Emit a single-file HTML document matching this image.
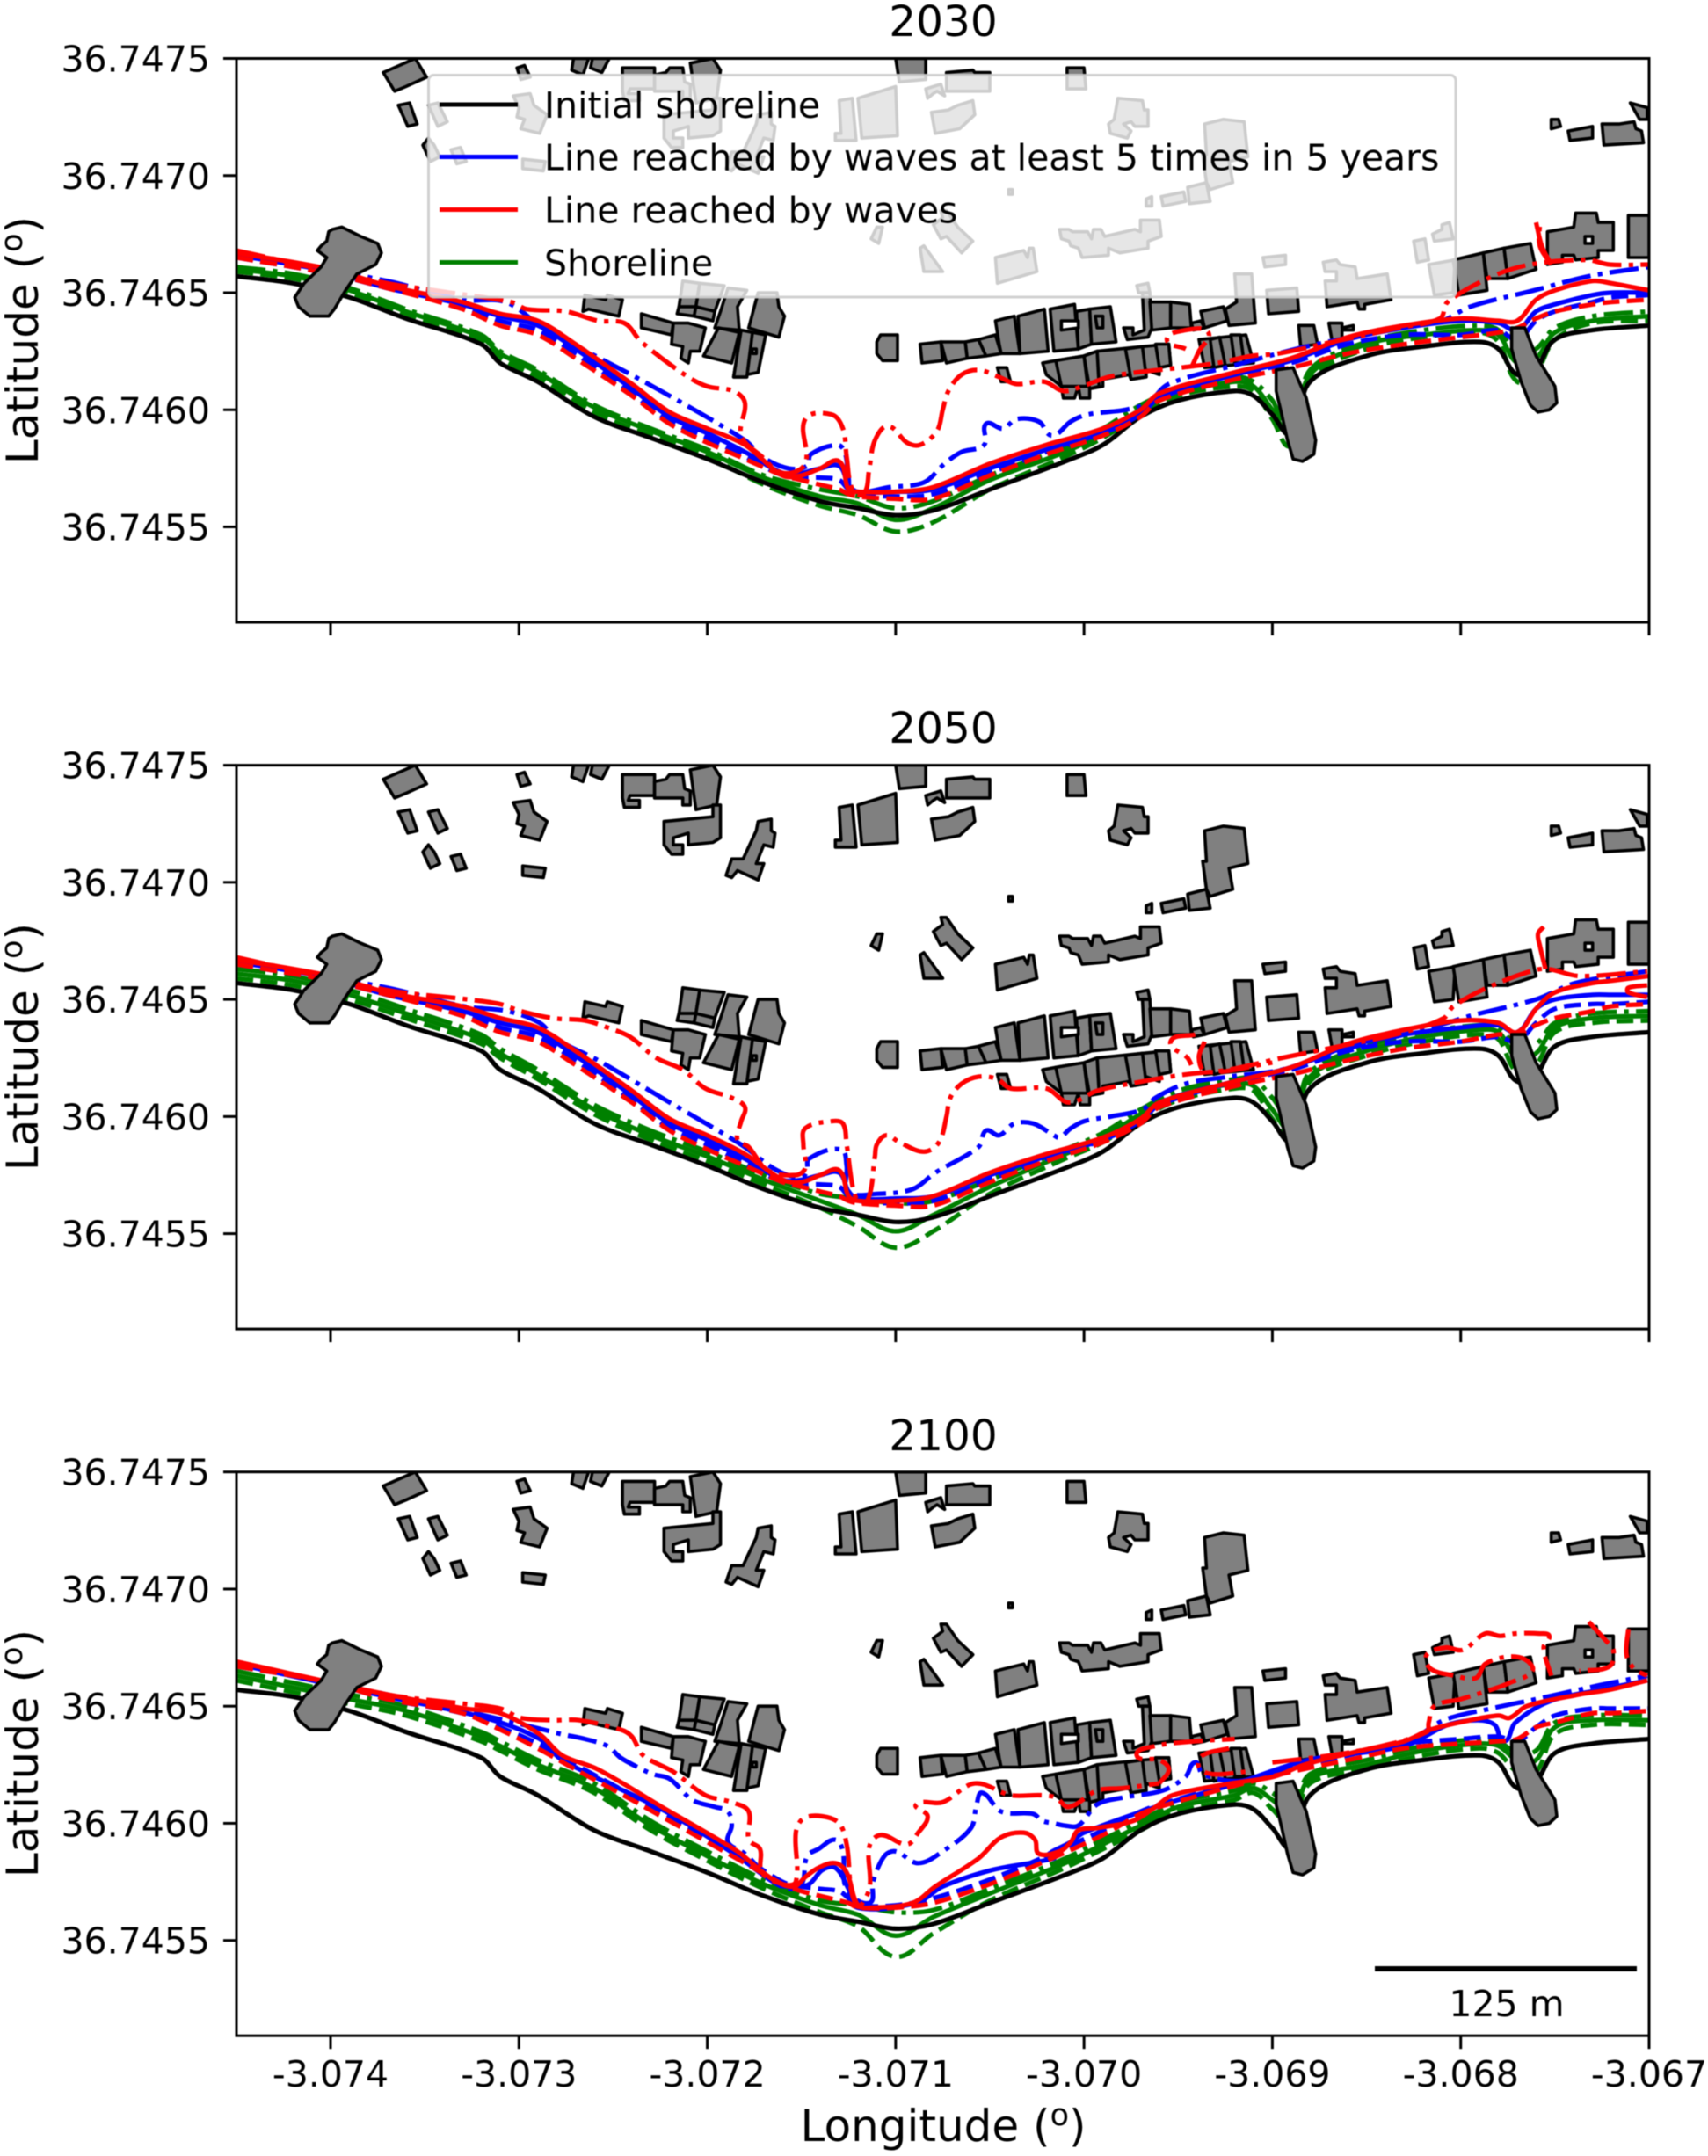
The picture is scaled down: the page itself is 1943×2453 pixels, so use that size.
<!DOCTYPE html>
<html lang="en">
<head>
<meta charset="utf-8">
<title>Shoreline projections 2030, 2050, 2100</title>
<style>
html,body{margin:0;padding:0;background:#fff}
svg{display:block;filter:blur(0.6px)}
text{font-family:"DejaVu Sans","Liberation Sans",sans-serif;fill:#000}
</style>
</head>
<body>
<svg id="chart" xmlns="http://www.w3.org/2000/svg" width="1943" height="2453" viewBox="0 0 1943 2453">
<rect x="0" y="0" width="1943" height="2453" fill="#fff"/>
<defs>
<clipPath id="clip0"><rect x="269" y="66.5" width="1607" height="641.5"/></clipPath>
<clipPath id="clip1"><rect x="269" y="870.6" width="1607" height="641.5"/></clipPath>
<clipPath id="clip2"><rect x="269" y="1674.7" width="1607" height="641.5"/></clipPath>
</defs>
<g id="panel0"></g>
<g id="panel1"></g>
<g id="panel2"></g>
<text x="1073" y="41" font-size="48.5" text-anchor="middle">2030</text>
<text x="1073" y="845" font-size="48.5" text-anchor="middle">2050</text>
<text x="1073" y="1650" font-size="48.5" text-anchor="middle">2100</text>
<text transform="translate(43,387) rotate(-90)" font-size="50" text-anchor="middle">Latitude (<tspan font-size="35" dy="-18">o</tspan><tspan dy="18">)</tspan></text>
<text transform="translate(43,1191) rotate(-90)" font-size="50" text-anchor="middle">Latitude (<tspan font-size="35" dy="-18">o</tspan><tspan dy="18">)</tspan></text>
<text transform="translate(43,1995) rotate(-90)" font-size="50" text-anchor="middle">Latitude (<tspan font-size="35" dy="-18">o</tspan><tspan dy="18">)</tspan></text>
<text x="1073" y="2436" font-size="50" text-anchor="middle">Longitude (<tspan font-size="35" dy="-18">o</tspan><tspan dy="18">)</tspan></text>
<g>
<rect x="487.5" y="85.5" width="1168.5" height="252.5" rx="6" ry="6" fill="#fff" fill-opacity="0.8" stroke="#ccc" stroke-opacity="0.9" stroke-width="3"/>
<line x1="500" y1="119" x2="589" y2="119" stroke="#000" stroke-width="5"/>
<text x="619" y="134" font-size="41">Initial shoreline</text>
<line x1="500" y1="178.5" x2="589" y2="178.5" stroke="#0000ff" stroke-width="5"/>
<text x="619" y="193.5" font-size="41">Line reached by waves at least 5 times in 5 years</text>
<line x1="500" y1="238.5" x2="589" y2="238.5" stroke="#ff0000" stroke-width="5"/>
<text x="619" y="253.5" font-size="41">Line reached by waves</text>
<line x1="500" y1="298.5" x2="589" y2="298.5" stroke="#008000" stroke-width="5"/>
<text x="619" y="313.5" font-size="41">Shoreline</text>
</g>
<rect x="1564" y="2237" width="298" height="6" fill="#000"/>
<text x="1714" y="2294" font-size="41" text-anchor="middle">125 m</text>
</svg>
<script>
const xTicks = [-3.074,-3.073,-3.072,-3.071,-3.070,-3.069,-3.068,-3.067];
const xTickLabels = ["-3.074","-3.073","-3.072","-3.071","-3.070","-3.069","-3.068","-3.067"];
const yTicks = [36.7475,36.7470,36.7465,36.7460,36.7455];
const yTickLabels = ["36.7475","36.7470","36.7465","36.7460","36.7455"];
const panelYears = ["2030","2050","2100"];

const lonBase = [-3.0745,-3.0742,-3.0739,-3.0736,-3.0732,-3.0731,-3.0729,-3.0726,-3.0723,-3.0720,-3.0717,-3.0714,-3.0712,-3.0710,-3.0708,-3.0705,-3.0701,-3.0699,-3.0697,-3.0695,-3.0692,-3.0691,-3.0690,-3.0689,-3.0688,-3.0685,-3.0682,-3.0679,-3.0678,-3.0677,-3.0676,-3.0675,-3.0673,-3.0670];
const lonUpper = [-3.0745,-3.0740,-3.0737,-3.0733,-3.0731,-3.0729,-3.0727,-3.0724,-3.0722,-3.0720,-3.0718,-3.0716,-3.0715,-3.0714,-3.0713,-3.07125,-3.0712,-3.0710,-3.0708,-3.0705,-3.0702,-3.0699,-3.0697,-3.0696,-3.0692,-3.0689,-3.0686,-3.0683,-3.0680,-3.0678,-3.0677,-3.0676,-3.0675,-3.0673,-3.0672,-3.0670];

const latInitial = [36.74657,36.74654,36.74648,36.74639,36.74628,36.7462,36.74612,36.74597,36.74588,36.74579,36.74569,36.74561,36.74558,36.74555,36.74557,36.74566,36.74578,36.74585,36.74597,36.74604,36.74608,36.74606,36.74598,36.7459,36.74612,36.74623,36.74627,36.74629,36.74626,36.74615,36.74618,36.7463,36.74634,36.74636];

const lat2030GreenSolid = [36.7466,36.74657,36.74651,36.74642,36.74631,36.74624,36.74616,36.74601,36.74591,36.74582,36.74571,36.74563,36.7456,36.74553,36.74558,36.7457,36.74582,36.7459,36.746,36.74607,36.74612,36.7461,36.746,36.7459,36.74615,36.74628,36.74632,36.74634,36.74632,36.7462,36.74622,36.74633,36.74638,36.7464];
const lat2030GreenDash = [36.74659,36.74656,36.7465,36.74641,36.74629,36.74622,36.74614,36.74599,36.74589,36.7458,36.74568,36.74559,36.74555,36.74548,36.74552,36.74566,36.7458,36.74588,36.74598,36.74606,36.7461,36.74608,36.74596,36.74585,36.74613,36.74626,36.74631,36.74633,36.74629,36.74612,36.74616,36.7463,36.74637,36.74638];
const lat2030GreenDashDot = [36.74661,36.74658,36.74652,36.74643,36.74632,36.74625,36.74617,36.74602,36.74592,36.74583,36.74572,36.74566,36.74563,36.74558,36.74561,36.74572,36.74584,36.74592,36.74602,36.74609,36.74614,36.74612,36.74604,36.74592,36.74617,36.74629,36.74634,36.74636,36.74634,36.74624,36.74626,36.74635,36.7464,36.74642];
const lat2030RedSolid = [36.74667,36.7466,36.74653,36.74646,36.74641,36.74638,36.74628,36.74611,36.74599,36.74592,36.74585,36.74572,36.74572,36.74575,36.74578,36.74566,36.74565,36.74565,36.74567,36.74577,36.74585,36.74592,36.746,36.74607,36.74616,36.74622,36.74631,36.74636,36.74639,36.74638,36.74638,36.74647,36.74651,36.74655,36.74654,36.74651];
const lat2030RedDash = [36.74665,36.74658,36.74652,36.74643,36.74636,36.74632,36.74622,36.74606,36.74594,36.74586,36.74579,36.74572,36.7457,36.74568,36.74566,36.74564,36.74563,36.74562,36.74562,36.74572,36.74581,36.74589,36.74597,36.74604,36.74613,36.74618,36.74624,36.74628,36.74631,36.74633,36.74635,36.74639,36.74642,36.74645,36.74646,36.74647];
const lat2030BlueSolid = [36.74666,36.74659,36.74652,36.74645,36.7464,36.74636,36.74626,36.74609,36.74597,36.7459,36.74582,36.74573,36.74573,36.74575,36.74576,36.74568,36.74565,36.74565,36.74566,36.74575,36.74583,36.7459,36.74598,36.74605,36.74615,36.74621,36.7463,36.74635,36.74638,36.74637,36.74634,36.74642,36.74645,36.74649,36.7465,36.7465];
const lat2030BlueDash = [36.74665,36.74658,36.74652,36.74644,36.74638,36.74634,36.74624,36.74607,36.74595,36.74588,36.7458,36.74572,36.74571,36.74571,36.7457,36.74566,36.74564,36.74563,36.74564,36.74573,36.74582,36.7459,36.74598,36.74606,36.74615,36.7462,36.74628,36.74632,36.74632,36.74634,36.7463,36.74638,36.74642,36.74646,36.74648,36.74649];
const lon2030BlueDashDot = [-3.0745,-3.0737,-3.0733,-3.07307,-3.07287,-3.07229,-3.0718,-3.07171,-3.07157,-3.07147,-3.07145,-3.07131,-3.07127,-3.07125,-3.07123,-3.07103,-3.07085,-3.07074,-3.07065,-3.07053,-3.07052,-3.07043,-3.07036,-3.07024,-3.07017,-3.07007,-3.06998,-3.06978,-3.06966,-3.06955,-3.0692,-3.06882,-3.06833,-3.0681,-3.06795,-3.06761,-3.06732,-3.067];
const lat2030BlueDashDot = [36.74667,36.74655,36.74647,36.74646,36.74635,36.7461,36.74587,36.7458,36.74575,36.74576,36.74581,36.74585,36.74582,36.74571,36.74565,36.74567,36.74569,36.74577,36.74582,36.74585,36.74594,36.74592,36.74596,36.74595,36.74589,36.74595,36.74598,36.746,36.74603,36.74611,36.74619,36.74627,36.74635,36.74638,36.74644,36.74651,36.74657,36.74661];
const lon2030RedDashDot = [-3.0745,-3.0737,-3.07345,-3.07304,-3.07296,-3.07275,-3.07258,-3.07244,-3.07235,-3.07212,-3.072,-3.07186,-3.0718,-3.07182,-3.07171,-3.0716,-3.07148,-3.07148,-3.07134,-3.07128,-3.07126,-3.07123,-3.07117,-3.07114,-3.07111,-3.07104,-3.07094,-3.07087,-3.07078,-3.07075,-3.07072,-3.07065,-3.07056,-3.07045,-3.07036,-3.07021,-3.07011,-3.07001,-3.06987,-3.06972,-3.06949,-3.06929,-3.06911,-3.06897,-3.06868,-3.06833,-3.06811,-3.06807,-3.06783,-3.06763,-3.06733,-3.06721,-3.067];
const lat2030RedDashDot = [36.74668,36.74654,36.74651,36.74646,36.74643,36.74642,36.74638,36.74637,36.74629,36.74615,36.7461,36.74608,36.74603,36.74589,36.7458,36.74573,36.74577,36.74596,36.74598,36.74592,36.7458,36.74566,36.74564,36.74575,36.74587,36.74593,36.74586,36.74585,36.74591,36.746,36.74608,36.74615,36.74617,36.74614,36.74611,36.74612,36.74608,36.7461,36.74614,36.74616,36.74618,36.7462,36.74623,36.74624,36.74629,36.74635,36.74639,36.74646,36.74657,36.74662,36.74664,36.74662,36.74662];
const lon2030FragA = [-3.06943,-3.06939,-3.06934,-3.06946,-3.06956,-3.06946];
const lat2030FragA = [36.74618,36.74625,36.74633,36.74634,36.7463,36.74626];
const lon2030FragB = [-3.06752,-3.06758,-3.06758];
const lat2030FragB = [36.74662,36.7467,36.7468];
const lon2030FragSolid = [-3.0676,-3.06757,-3.06752];
const lat2030FragSolid = [36.7468,36.7467,36.74662];

const lat2050GreenSolid = [36.74661,36.74658,36.74652,36.74644,36.74633,36.74627,36.74618,36.74603,36.74592,36.74583,36.74573,36.74564,36.74558,36.74551,36.74558,36.7457,36.74584,36.74591,36.74601,36.74609,36.74614,36.74613,36.74603,36.74595,36.74617,36.74628,36.74634,36.74637,36.74636,36.74625,36.74627,36.74638,36.74642,36.74643];
const lat2050GreenDash = [36.74659,36.74656,36.7465,36.74642,36.74631,36.74625,36.74616,36.74601,36.7459,36.74581,36.74571,36.74561,36.74553,36.74544,36.74551,36.74567,36.74582,36.74589,36.74599,36.74607,36.74612,36.74611,36.74599,36.74591,36.74615,36.74626,36.74632,36.74635,36.74633,36.74619,36.74622,36.74636,36.7464,36.74641];
const lat2050GreenDashDot = [36.74663,36.7466,36.74654,36.74646,36.74635,36.74629,36.7462,36.74605,36.74594,36.74585,36.74575,36.74567,36.74565,36.74563,36.74564,36.74573,36.74586,36.74593,36.74603,36.74611,36.74616,36.74616,36.74608,36.746,36.74619,36.7463,36.74636,36.74639,36.74638,36.7463,36.74631,36.7464,36.74644,36.74645];
const lat2050RedSolid = [36.74667,36.7466,36.74653,36.74647,36.74642,36.74638,36.74628,36.74611,36.74599,36.74592,36.74584,36.74573,36.74572,36.74575,36.74577,36.74566,36.74564,36.74564,36.74566,36.74576,36.74584,36.74591,36.74599,36.74606,36.74615,36.74621,36.74631,36.74637,36.74641,36.7464,36.74636,36.74646,36.74653,36.74657,36.74658,36.7466];
const lat2050RedDash = [36.74665,36.74658,36.74652,36.74643,36.74636,36.74632,36.74622,36.74606,36.74594,36.74586,36.74579,36.74572,36.7457,36.74568,36.74566,36.74564,36.74563,36.74562,36.74562,36.74572,36.74581,36.74589,36.74597,36.74604,36.74613,36.74618,36.74624,36.74629,36.74632,36.74635,36.74635,36.74639,36.74642,36.74645,36.74647,36.74648];
const lat2050BlueSolid = [36.74666,36.74659,36.74652,36.74645,36.7464,36.74636,36.74626,36.74609,36.74597,36.7459,36.74582,36.74573,36.74573,36.74575,36.74576,36.74568,36.74565,36.74565,36.74566,36.74575,36.74583,36.7459,36.74598,36.74605,36.74615,36.74621,36.7463,36.74635,36.74638,36.74639,36.74636,36.74646,36.7465,36.74652,36.74652,36.74652];
const lat2050BlueDash = [36.74665,36.74658,36.74652,36.74644,36.74638,36.74634,36.74624,36.74607,36.74595,36.74588,36.7458,36.74572,36.74571,36.74571,36.7457,36.74566,36.74564,36.74563,36.74564,36.74573,36.74582,36.7459,36.74598,36.74606,36.74615,36.7462,36.74628,36.74632,36.74632,36.74634,36.74632,36.7464,36.74646,36.74648,36.74648,36.74649];
const lon2050BlueDashDot = [-3.0745,-3.0737,-3.07329,-3.07306,-3.07289,-3.0728,-3.07258,-3.07222,-3.07182,-3.07163,-3.0715,-3.07147,-3.07146,-3.07129,-3.07126,-3.07125,-3.0711,-3.07091,-3.07079,-3.07056,-3.07052,-3.07045,-3.07037,-3.07027,-3.07016,-3.07013,-3.07007,-3.07,-3.06986,-3.06969,-3.06962,-3.06946,-3.06923,-3.06895,-3.06865,-3.0683,-3.06807,-3.06795,-3.0676,-3.06739,-3.06701];
const lat2050BlueDashDot = [36.74667,36.74655,36.74647,36.74645,36.7464,36.74633,36.74624,36.74607,36.74588,36.74577,36.74574,36.74577,36.74582,36.74586,36.74579,36.74568,36.74567,36.74569,36.74576,36.74587,36.74594,36.74592,36.74597,36.74597,36.74592,36.74591,36.74595,36.74598,36.746,36.74603,36.74608,36.74614,36.74617,36.7462,36.74628,36.74635,36.7464,36.74643,36.7465,36.74657,36.74662];
const lon2050RedDashDot = [-3.0745,-3.0737,-3.07327,-3.0731,-3.07299,-3.07282,-3.07265,-3.07253,-3.07241,-3.07227,-3.07213,-3.07201,-3.07187,-3.0718,-3.07182,-3.07184,-3.07178,-3.07168,-3.07153,-3.07148,-3.07149,-3.07148,-3.07134,-3.07128,-3.07126,-3.07121,-3.07115,-3.07111,-3.0711,-3.07105,-3.07098,-3.07085,-3.07077,-3.07073,-3.07071,-3.07065,-3.07056,-3.07046,-3.07039,-3.0702,-3.07008,-3.06993,-3.06969,-3.06946,-3.06923,-3.06895,-3.06858,-3.0683,-3.06809,-3.06804,-3.06786,-3.06763,-3.06754,-3.06737,-3.06701];
const lat2050RedDashDot = [36.74668,36.74654,36.7465,36.74648,36.74645,36.74642,36.74641,36.74638,36.74634,36.74625,36.7462,36.74612,36.74608,36.74604,36.74598,36.7459,36.74587,36.74577,36.74575,36.74578,36.74588,36.74595,36.74598,36.74597,36.74588,36.74565,36.74564,36.74583,36.74588,36.74592,36.74589,36.74585,36.74589,36.746,36.74608,36.74614,36.74617,36.74616,36.74612,36.74612,36.74606,36.74611,36.74615,36.74618,36.7462,36.74625,36.74631,36.74636,36.74642,36.74647,36.74655,36.74662,36.74663,36.7466,36.74662];
const lon2050FragA = [-3.06941,-3.06954,-3.06945,-3.06943];
const lat2050FragA = [36.74635,36.74632,36.74625,36.74622];
const lon2050FragB = [-3.06936,-3.06939,-3.06935,-3.069];
const lat2050FragB = [36.74632,36.74625,36.74619,36.74623];
const lon2050FragSolid = [-3.06756,-3.06759,-3.06758,-3.06755];
const lat2050FragSolid = [36.74681,36.74678,36.74673,36.74663];
const lon2050FragSolid2 = [-3.06701,-3.06711,-3.06711,-3.06701];
const lat2050FragSolid2 = [36.74656,36.74655,36.74653,36.74651];

const lat2100GreenSolid = [36.74663,36.74658,36.74653,36.74648,36.74637,36.74633,36.74625,36.74615,36.74599,36.74586,36.74574,36.74565,36.74561,36.74552,36.7456,36.7457,36.74583,36.74591,36.74599,36.74607,36.74612,36.74615,36.7461,36.74605,36.74619,36.74625,36.74631,36.74634,36.74633,36.74627,36.74627,36.74641,36.74644,36.74644];
const lat2100GreenDash = [36.74661,36.74656,36.74651,36.74646,36.74635,36.74631,36.74623,36.74613,36.74597,36.74584,36.74572,36.74562,36.74556,36.74543,36.74553,36.74567,36.74581,36.74589,36.74597,36.74605,36.7461,36.74613,36.74606,36.746,36.74617,36.74623,36.74629,36.74632,36.7463,36.74622,36.74622,36.74638,36.74642,36.74642];
const lat2100GreenDashDot = [36.74665,36.7466,36.74655,36.7465,36.74639,36.74635,36.74627,36.74617,36.74601,36.74588,36.74576,36.74567,36.74565,36.74562,36.74563,36.74572,36.74585,36.74593,36.74601,36.74609,36.74614,36.74617,36.74613,36.74608,36.74621,36.74627,36.74633,36.74636,36.74635,36.7463,36.74631,36.74643,36.74646,36.74646];
const lon2100RedSolid = [-3.0745,-3.0737,-3.07329,-3.0731,-3.07289,-3.07277,-3.07258,-3.07222,-3.07184,-3.07172,-3.07163,-3.07154,-3.07148,-3.07141,-3.07132,-3.07126,-3.0712,-3.07113,-3.07091,-3.07079,-3.07056,-3.07044,-3.07032,-3.07026,-3.07024,-3.07013,-3.07007,-3.07003,-3.06993,-3.06974,-3.06962,-3.06953,-3.06922,-3.06899,-3.06883,-3.06853,-3.0683,-3.06816,-3.06795,-3.0678,-3.06774,-3.06765,-3.06737,-3.06721,-3.06701];
const lat2100RedSolid = [36.74669,36.74655,36.74649,36.74647,36.74638,36.74629,36.74623,36.74606,36.74588,36.7458,36.74575,36.74573,36.74577,36.74581,36.74583,36.74579,36.74565,36.74564,36.74566,36.74573,36.74585,36.74594,36.74596,36.74593,36.74587,36.74588,36.74592,36.74597,36.74598,36.74601,36.74607,36.74612,36.74617,36.7462,36.74625,36.74631,36.74635,36.7464,36.74644,36.74646,36.74645,36.7465,36.74655,36.74657,36.74661];
const lon2100BlueSolid = [-3.0745,-3.0737,-3.07318,-3.07289,-3.07277,-3.07222,-3.07184,-3.07163,-3.07154,-3.07146,-3.07139,-3.07132,-3.07125,-3.0712,-3.07089,-3.07075,-3.07049,-3.07016,-3.0702,-3.07007,-3.07,-3.06958,-3.06923,-3.06881,-3.0683,-3.06807,-3.06791,-3.06782,-3.06777,-3.06771,-3.06753,-3.06726,-3.06701];
const lat2100BlueSolid = [36.74668,36.74654,36.74645,36.74636,36.74627,36.74605,36.74586,36.74574,36.74573,36.74574,36.7458,36.74581,36.74572,36.74564,36.74566,36.74573,36.7458,36.74585,36.74586,36.74592,36.74596,36.74608,36.74616,36.74627,36.74633,36.74642,36.74644,36.74642,36.74635,36.74643,36.74652,36.74657,36.74661];
const lat2100RedDash = [36.74667,36.7466,36.74653,36.74647,36.7464,36.74632,36.74623,36.7461,36.74601,36.74592,36.74583,36.74574,36.74571,36.74569,36.74567,36.74566,36.74564,36.74564,36.74566,36.74574,36.74584,36.74595,36.74604,36.74607,36.74616,36.74622,36.74627,36.74632,36.74634,36.74635,36.74636,36.74641,36.74643,36.74647,36.74647,36.74648];
const lat2100BlueDash = [36.74667,36.7466,36.74653,36.74647,36.74641,36.74634,36.74625,36.74612,36.74603,36.74594,36.74585,36.74575,36.74573,36.74572,36.74571,36.74568,36.74565,36.74565,36.74568,36.74576,36.74586,36.74597,36.74605,36.74608,36.74617,36.74623,36.74629,36.74634,36.74636,36.74637,36.74635,36.74641,36.74646,36.74649,36.74649,36.74649];
const lon2100BlueDashDot = [-3.0745,-3.0737,-3.07329,-3.07287,-3.07277,-3.07265,-3.07253,-3.07246,-3.07237,-3.07229,-3.0722,-3.07208,-3.07196,-3.07189,-3.07187,-3.07189,-3.0718,-3.07163,-3.07151,-3.07147,-3.07141,-3.07132,-3.07128,-3.07126,-3.07114,-3.07112,-3.07106,-3.071,-3.07088,-3.07075,-3.0706,-3.07057,-3.07054,-3.07044,-3.07027,-3.07022,-3.07016,-3.0701,-3.07003,-3.06993,-3.06979,-3.06958,-3.06946,-3.06941,-3.06937,-3.06918,-3.06899,-3.06865,-3.0683,-3.06809,-3.06784,-3.0676,-3.06726,-3.06701];
const lat2100BlueDashDot = [36.74668,36.74655,36.74648,36.7464,36.74638,36.74636,36.74633,36.74628,36.74624,36.74621,36.74619,36.7461,36.74607,36.74605,36.74599,36.74592,36.74587,36.74574,36.74573,36.74586,36.74589,36.74593,36.74588,36.74572,36.74566,36.74575,36.74586,36.74588,36.74583,36.74588,36.74598,36.74608,36.74613,36.74605,36.74604,36.74601,36.746,36.74599,36.74599,36.74608,36.74611,36.74614,36.7462,36.74626,36.74621,36.74618,36.74622,36.74629,36.74634,36.74644,36.74649,36.74653,36.74659,36.74663];
const lon2100RedDashDot = [-3.0745,-3.0737,-3.07329,-3.0731,-3.07299,-3.07282,-3.07268,-3.07246,-3.0724,-3.07234,-3.07218,-3.07201,-3.07187,-3.07178,-3.07178,-3.07172,-3.07171,-3.0716,-3.07153,-3.07153,-3.07149,-3.07139,-3.0713,-3.07126,-3.07121,-3.07114,-3.07114,-3.07108,-3.07094,-3.07088,-3.07083,-3.07089,-3.07075,-3.07058,-3.07039,-3.07023,-3.07015,-3.07008,-3.06993,-3.06979,-3.0696];
const lat2100RedDashDot = [36.74669,36.74655,36.74651,36.74649,36.74645,36.74644,36.74644,36.7464,36.74637,36.74629,36.74622,36.74612,36.74609,36.74605,36.74593,36.74589,36.74579,36.74574,36.74575,36.74596,36.74602,36.74603,36.746,36.74591,36.74565,36.74572,36.7459,36.74595,36.74591,36.74596,36.74603,36.74608,36.74609,36.74617,36.74612,36.74612,36.74611,36.74607,36.74614,36.74615,36.74617];
const lon2100FragA = [-3.0696,-3.06955,-3.0696,-3.06972,-3.06962,-3.06941,-3.0692];
const lat2100FragA = [36.74617,36.74623,36.74627,36.74629,36.74633,36.74635,36.74636];
const lon2100FragB = [-3.06923,-3.06937,-3.06939,-3.06932,-3.06914];
const lat2100FragB = [36.74632,36.74629,36.74624,36.74621,36.74622];
const lon2100FragC = [-3.069,-3.06869,-3.06842,-3.06818,-3.06817,-3.06814,-3.068,-3.06784,-3.06774,-3.06762,-3.06766,-3.06776,-3.06787,-3.06792,-3.06803,-3.06816,-3.06818,-3.06808,-3.06799,-3.06787,-3.06779,-3.06771,-3.06758,-3.06753,-3.06756,-3.06752];
const lat2100FragC = [36.74626,36.74629,36.74633,36.74639,36.74643,36.7465,36.74653,36.74657,36.7466,36.74665,36.7467,36.74671,36.74668,36.74662,36.74663,36.74666,36.74672,36.74675,36.74674,36.74681,36.7468,36.74681,36.74681,36.7468,36.74675,36.74663];
const lon2100FragD = [-3.06732,-3.06723,-3.06719,-3.06721,-3.06737];
const lat2100FragD = [36.74686,36.74678,36.74674,36.74667,36.74665];
const lon2100FragE = [-3.06711,-3.06712,-3.06708,-3.06701];
const lat2100FragE = [36.74683,36.74672,36.74666,36.74663];

const groyneLon = [
[-3.07399,-3.07394,-3.07384,-3.07375,-3.07373,-3.07376,-3.07386,-3.07392,-3.07398,-3.07401,-3.07411,-3.07417,-3.07419,-3.07414,-3.07405,-3.07402,-3.07407,-3.07405,-3.07402,-3.07401],
[-3.06898,-3.06889,-3.06882,-3.06877,-3.06878,-3.06884,-3.06889,-3.06892,-3.06895,-3.06898],
[-3.06773,-3.06766,-3.0676,-3.0675,-3.06749,-3.06753,-3.06759,-3.06763,-3.06768,-3.06773]];
const groyneLat = [
[36.74677,36.74678,36.74674,36.74671,36.74667,36.74662,36.74658,36.74651,36.74643,36.7464,36.7464,36.74644,36.74648,36.74654,36.74661,36.74665,36.74668,36.7467,36.74672,36.74676],
[36.74617,36.74618,36.74605,36.74587,36.74581,36.74578,36.74579,36.74587,36.74598,36.74608],
[36.74635,36.74635,36.74623,36.7461,36.74603,36.746,36.74599,36.74602,36.74612,36.74626]];

const buildingLon = [
[-3.07372,-3.07355,-3.07349,-3.0736,-3.07366],
[-3.07364,-3.07358,-3.07354,-3.07359],
[-3.07348,-3.07343,-3.07338,-3.07343],
[-3.07351,-3.07348,-3.07345,-3.07342,-3.07347],
[-3.07336,-3.07331,-3.07328,-3.07333],
[-3.07301,-3.07297,-3.07294,-3.07299],
[-3.07303,-3.07294,-3.07292,-3.07285,-3.07289,-3.07299,-3.07297,-3.07301,-3.073],
[-3.07298,-3.07286,-3.07287,-3.07298],
[-3.07271,-3.07263,-3.07266,-3.07272],
[-3.07261,-3.07252,-3.07256,-3.07262],
[-3.07245,-3.07228,-3.07228,-3.07241,-3.07242,-3.07236,-3.07236,-3.07244,-3.07245],
[-3.07228,-3.07222,-3.0722,-3.07213,-3.07212,-3.07209,-3.07209,-3.07213,-3.07213,-3.07228],
[-3.07209,-3.07197,-3.07193,-3.07195,-3.07206],
[-3.07223,-3.0721,-3.07197,-3.07197,-3.07193,-3.07193,-3.07197,-3.0721,-3.0721,-3.07218,-3.07218,-3.07213,-3.07213,-3.07219,-3.07223],
[-3.07174,-3.07173,-3.07166,-3.07166,-3.07164,-3.07165,-3.0717,-3.07174,-3.0717,-3.07173,-3.07184,-3.07187,-3.0719,-3.07187,-3.07181],
[-3.0713,-3.07123,-3.07121,-3.07132,-3.07132,-3.07129],
[-3.0712,-3.071,-3.07099,-3.07118],
[-3.071,-3.07084,-3.07084,-3.07098],
[-3.07084,-3.07076,-3.07074,-3.07078,-3.0708,-3.07083],
[-3.07073,-3.07059,-3.07058,-3.0705,-3.0705,-3.07073],
[-3.07081,-3.07072,-3.07067,-3.07059,-3.07058,-3.07062,-3.07066,-3.07079],
[-3.0704,-3.07038,-3.07038,-3.0704],
[-3.07113,-3.0711,-3.07107,-3.07109],
[-3.07076,-3.07073,-3.07067,-3.07059,-3.07065,-3.07073,-3.07076,-3.0708,-3.07075],
[-3.07087,-3.07085,-3.07075,-3.07085],
[-3.07009,-3.07,-3.06999,-3.07009],
[-3.06982,-3.06969,-3.06968,-3.06966,-3.06966,-3.06973,-3.06975,-3.06979,-3.06975,-3.06977,-3.06986,-3.06987,-3.06984],
[-3.06936,-3.06926,-3.06915,-3.06913,-3.06923,-3.06921,-3.06933,-3.06935,-3.06937,-3.06935],
[-3.06945,-3.06935,-3.06933,-3.06944],
[-3.06959,-3.06947,-3.06946,-3.06958],
[-3.06967,-3.06964,-3.06964,-3.06967],
[-3.0671,-3.06701,-3.06701,-3.06705],
[-3.06752,-3.06748,-3.06747,-3.06752],
[-3.06743,-3.0673,-3.0673,-3.06742],
[-3.06725,-3.06716,-3.06708,-3.06707,-3.06704,-3.06703,-3.06724],
[-3.07047,-3.07032,-3.0703,-3.07029,-3.07027,-3.07025,-3.07046],
[-3.07013,-3.07008,-3.07006,-3.06998,-3.06996,-3.06995,-3.06991,-3.06989,-3.06973,-3.0697,-3.0697,-3.06966,-3.0696,-3.06959,-3.06966,-3.06966,-3.06981,-3.06987,-3.06987,-3.07001,-3.07003,-3.07007,-3.07008,-3.07012],
[-3.06825,-3.06819,-3.06817,-3.06823],
[-3.06815,-3.0681,-3.0681,-3.06806,-3.06804,-3.06814],
[-3.06754,-3.0674,-3.06739,-3.06728,-3.06727,-3.06719,-3.06719,-3.06727,-3.06727,-3.06739,-3.0674,-3.06746,-3.06746,-3.06754],
[-3.06711,-3.067,-3.067,-3.06711],
[-3.06817,-3.06803,-3.06804,-3.06814],
[-3.06804,-3.06788,-3.06786,-3.06801],
[-3.06788,-3.06777,-3.06775,-3.06786],
[-3.06777,-3.06763,-3.0676,-3.06775],
[-3.06873,-3.06866,-3.06864,-3.06856,-3.06855,-3.06839,-3.06837,-3.06851,-3.06851,-3.06854,-3.06855,-3.06871,-3.06872,-3.06866,-3.06866,-3.06872],
[-3.06905,-3.06893,-3.06893,-3.06904],
[-3.06903,-3.06887,-3.06886,-3.06902],
[-3.07213,-3.07204,-3.07206,-3.07215],
[-3.07204,-3.07191,-3.07196,-3.07206],
[-3.07215,-3.07206,-3.07207,-3.07216],
[-3.07206,-3.07196,-3.07197,-3.07207],
[-3.07265,-3.07254,-3.07253,-3.07245,-3.07247,-3.07263,-3.07266],
[-3.07189,-3.07179,-3.07184,-3.07183,-3.07196,-3.07193],
[-3.07173,-3.07163,-3.07162,-3.07159,-3.07162,-3.07178],
[-3.07235,-3.07218,-3.07219,-3.07235],
[-3.07218,-3.0721,-3.07201,-3.07204,-3.07209,-3.0721,-3.07214,-3.07213,-3.07219],
[-3.07194,-3.07183,-3.07187,-3.07202],
[-3.07182,-3.07169,-3.07173,-3.07179,-3.07179,-3.07186],
[-3.07182,-3.07176,-3.07179,-3.07186],
[-3.07108,-3.07099,-3.07099,-3.07107,-3.0711,-3.0711],
[-3.07087,-3.07076,-3.07075,-3.07086],
[-3.07076,-3.07063,-3.07062,-3.07073],
[-3.07063,-3.07056,-3.07052,-3.07062],
[-3.07056,-3.07047,-3.07044,-3.07052],
[-3.07047,-3.07037,-3.07034,-3.07044,-3.07045],
[-3.07035,-3.07021,-3.07019,-3.07034],
[-3.06972,-3.06966,-3.06965,-3.06971],
[-3.06969,-3.06965,-3.06964,-3.06966,-3.06977,-3.06979,-3.06974,-3.06974,-3.06968],
[-3.06965,-3.06954,-3.06954,-3.06964],
[-3.06954,-3.06944,-3.06943,-3.06954],
[-3.06938,-3.06926,-3.06924,-3.06936],
[-3.06925,-3.06919,-3.0692,-3.06911,-3.06909,-3.06923],
[-3.06943,-3.06938,-3.06936,-3.06942],
[-3.07018,-3.07005,-3.07003,-3.07016],
[-3.07004,-3.06997,-3.06996,-3.07003],
[-3.06997,-3.06986,-3.06983,-3.06996],
[-3.06994,-3.0699,-3.0699,-3.06993],
[-3.07022,-3.07015,-3.07,-3.06993,-3.06969,-3.06955,-3.06954,-3.0696,-3.0696,-3.06967,-3.06967,-3.06975,-3.06976,-3.0699,-3.0699,-3.06997,-3.06997,-3.07002,-3.07003,-3.07005,-3.07011,-3.07012,-3.0702],
[-3.07,-3.06993,-3.06992,-3.06997],
[-3.06978,-3.06969,-3.06967,-3.06975],
[-3.06962,-3.06955,-3.06954,-3.0696],
[-3.07015,-3.07,-3.06998,-3.07012],
[-3.06939,-3.06914,-3.0691,-3.06936],
[-3.06933,-3.06928,-3.06925,-3.06931],
[-3.06922,-3.06917,-3.06915,-3.0692],
[-3.06886,-3.06878,-3.06876,-3.06885],
[-3.0687,-3.06863,-3.06863,-3.06857,-3.06857,-3.06863,-3.06863,-3.06868],
[-3.07046,-3.07041,-3.07039,-3.07044]];
const buildingLat = [
[36.74744,36.7475,36.74742,36.74738,36.74736],
[36.7473,36.74731,36.74722,36.74721],
[36.7473,36.74731,36.74723,36.74721],
[36.74713,36.74716,36.74713,36.74708,36.74706],
[36.74711,36.74712,36.74706,36.74705],
[36.74746,36.74747,36.74742,36.74741],
[36.74734,36.74735,36.7473,36.74726,36.74718,36.7472,36.74724,36.74725,36.74729],
[36.74707,36.74706,36.74702,36.74703],
[36.7475,36.7475,36.74743,36.74745],
[36.7475,36.7475,36.74744,36.74746],
[36.74746,36.74746,36.74737,36.74737,36.74735,36.74735,36.74732,36.74732,36.74736],
[36.74743,36.74744,36.74746,36.74746,36.7474,36.74739,36.74733,36.74733,36.74736,36.74736],
[36.74748,36.7475,36.74745,36.74733,36.74731],
[36.74726,36.74727,36.74728,36.74733,36.74733,36.74719,36.74717,36.74716,36.74721,36.74719,36.74716,36.74716,36.74712,36.74712,36.74716],
[36.74722,36.74726,36.74727,36.74722,36.74721,36.74715,36.74716,36.74708,36.74708,36.74701,36.74705,36.74702,36.74703,36.7471,36.7471],
[36.74732,36.74733,36.74715,36.74715,36.74718,36.74718],
[36.74733,36.74738,36.74717,36.74716],
[36.7475,36.7475,36.74741,36.7474],
[36.74737,36.74739,36.74734,36.74736,36.74735,36.74733],
[36.74744,36.74745,36.74744,36.74744,36.74736,36.74736],
[36.74727,36.74728,36.7473,36.74732,36.74726,36.74723,36.7472,36.74718],
[36.74694,36.74694,36.74692,36.74692],
[36.74673,36.74678,36.74678,36.74671],
[36.74685,36.74685,36.74678,36.74672,36.74667,36.74674,36.74673,36.74679,36.74682],
[36.74669,36.7467,36.74659,36.74659],
[36.74746,36.74746,36.74737,36.74737],
[36.74733,36.74732,36.74728,36.74728,36.74721,36.74721,36.74723,36.74722,36.74719,36.74716,36.74718,36.74722,36.74724],
[36.74722,36.74724,36.74723,36.74708,36.74706,36.74697,36.74694,36.74697,36.74709,36.74709],
[36.74695,36.74697,36.74689,36.74688],
[36.74691,36.74693,36.74689,36.74687],
[36.7469,36.74691,36.74687,36.74687],
[36.74731,36.74729,36.74724,36.74724],
[36.74724,36.74724,36.74721,36.7472],
[36.74719,36.74721,36.74716,36.74715],
[36.74722,36.74722,36.74723,36.7472,36.74719,36.74714,36.74713],
[36.74665,36.74668,36.74665,36.74669,36.74669,36.74659,36.74654],
[36.74677,36.74677,36.74676,36.74676,36.74673,36.74677,36.74677,36.74674,36.74677,36.74676,36.74681,36.74681,36.74681,36.74674,36.74672,36.74669,36.74667,36.74669,36.74666,36.74665,36.74669,36.7467,36.74672,36.74673],
[36.74672,36.74673,36.74664,36.74663],
[36.74675,36.74677,36.74679,36.7468,36.74673,36.74672],
[36.74676,36.74678,36.74684,36.74684,36.7468,36.7468,36.74668,36.74668,36.74665,36.74664,36.74666,36.74666,36.74663,36.74662],
[36.74683,36.74683,36.74665,36.74665],
[36.74662,36.74664,36.7465,36.74649],
[36.74664,36.74667,36.74651,36.74649],
[36.74667,36.74669,36.74656,36.74656],
[36.74669,36.74671,36.7466,36.74656],
[36.74663,36.74664,36.74662,36.74661,36.74656,36.74658,36.74647,36.74645,36.74643,36.74643,36.74646,36.74644,36.74655,36.74655,36.74659,36.74659],
[36.74665,36.74666,36.74662,36.74661],
[36.74651,36.74652,36.74642,36.74641],
[36.74655,36.74654,36.74644,36.74644],
[36.74654,36.74653,36.74642,36.74644],
[36.74644,36.74644,36.7464,36.74641],
[36.74644,36.74642,36.74638,36.7464],
[36.74649,36.74647,36.74649,36.74647,36.7464,36.74643,36.74642],
[36.74652,36.74651,36.74644,36.74634,36.74635,36.74642],
[36.7465,36.7465,36.74644,36.7464,36.74631,36.74635],
[36.74641,36.74637,36.74632,36.74635],
[36.74637,36.74637,36.74635,36.74625,36.74625,36.7462,36.74622,36.74627,36.74628],
[36.74635,36.74633,36.7462,36.74623],
[36.74634,36.74632,36.74616,36.74615,36.74614,36.74614],
[36.74634,36.74633,36.74614,36.74614],
[36.74632,36.74632,36.74621,36.74621,36.74624,36.74629],
[36.74628,36.74629,36.74621,36.7462],
[36.74629,36.74629,36.74622,36.7462],
[36.74629,36.7463,36.74623,36.74622],
[36.7463,36.74632,36.74624,36.74623],
[36.74638,36.7464,36.74624,36.74624,36.74628],
[36.7464,36.74643,36.74625,36.74624],
[36.74653,36.74654,36.7465,36.7465],
[36.7465,36.7465,36.74635,36.74631,36.7463,36.74635,36.74635,36.74632,36.74634],
[36.74646,36.74646,36.74635,36.74634],
[36.74646,36.74645,36.74635,36.74635],
[36.74642,36.74644,36.74638,36.74635],
[36.74643,36.74646,36.74658,36.74658,36.74637,36.74636],
[36.74637,36.74638,36.74635,36.74634],
[36.74643,36.74645,36.74626,36.74625],
[36.74642,36.74643,36.74628,36.74626],
[36.74643,36.74644,36.74629,36.74628],
[36.7464,36.7464,36.74635,36.74635],
[36.7462,36.74621,36.74623,36.74625,36.74627,36.74628,36.74619,36.74618,36.74615,36.74617,36.74614,36.74613,36.74615,36.74613,36.7461,36.74609,36.74605,36.74605,36.7461,36.74605,36.74605,36.7461,36.74615],
[36.74623,36.74625,36.7461,36.74609],
[36.74626,36.74627,36.74614,36.74613],
[36.74628,36.74628,36.74619,36.74618],
[36.74621,36.74623,36.7461,36.7461],
[36.7463,36.74632,36.7462,36.74618],
[36.7463,36.74631,36.74619,36.74618],
[36.74632,36.74632,36.7462,36.7462],
[36.74636,36.74636,36.74628,36.74627],
[36.74637,36.74637,36.74635,36.74636,36.74634,36.74634,36.74629,36.74628],
[36.74618,36.74618,36.74612,36.74612]];

const holeLon = [[-3.07012,-3.07003,-3.07003,-3.07012],[-3.07176,-3.07174,-3.07174,-3.07176],[-3.06734,-3.0673,-3.0673,-3.06734]];
const holeLat = [[36.74638,36.74638,36.74635,36.74634],[36.74626,36.74626,36.74624,36.74624],[36.74674,36.74674,36.74671,36.74671]];

const SVGNS = 'http://www.w3.org/2000/svg';
const LW = 5.2;
const DASH = (3.7*LW) + ' ' + (1.6*LW);
const DASHDOT = (6.4*LW) + ' ' + (1.6*LW) + ' ' + LW + ' ' + (1.6*LW);
const panelTops = [66.5, 870.6, 1674.7];
const plotLeft = 269, plotRight = 1876, plotHeight = 641.5;

function xOf(lon){ return 376 + (lon + 3.074) * 214286; }
function yOf(lat, top){ return top + (36.7475 - lat) * 266500; }
function pts(lons, lats, top){
  const out = [];
  for (let i = 0; i < lons.length && i < lats.length; i++) {
    out.push(xOf(lons[i]).toFixed(1) + ',' + yOf(lats[i], top).toFixed(1));
  }
  return out.join(' ');
}
function smoothPath(lons, lats, top){
  const p = [];
  for (let i = 0; i < lons.length && i < lats.length; i++) {
    p.push([xOf(lons[i]), yOf(lats[i], top)]);
  }
  function unit(a, b){
    const dx = b[0] - a[0], dy = b[1] - a[1];
    const d = Math.hypot(dx, dy) || 1;
    return [dx / d, dy / d];
  }
  let d = 'M' + p[0][0].toFixed(1) + ' ' + p[0][1].toFixed(1);
  for (let i = 0; i < p.length - 1; i++) {
    const p0 = p[Math.max(i - 1, 0)], p1 = p[i], p2 = p[i + 1], p3 = p[Math.min(i + 2, p.length - 1)];
    const len = Math.hypot(p2[0] - p1[0], p2[1] - p1[1]) / 3;
    const t1 = unit(p0, p2), t2 = unit(p1, p3);
    d += 'C' + (p1[0] + t1[0] * len).toFixed(1) + ' ' + (p1[1] + t1[1] * len).toFixed(1) + ' ' +
         (p2[0] - t2[0] * len).toFixed(1) + ' ' + (p2[1] - t2[1] * len).toFixed(1) + ' ' +
         p2[0].toFixed(1) + ' ' + p2[1].toFixed(1);
  }
  return d;
}
function drawLine(group, lons, lats, top, color, dash, name){
  const el = document.createElementNS(SVGNS, 'path');
  
  
  el.setAttribute('d', smoothPath(lons, lats, top));
  el.setAttribute('fill', 'none');
  el.setAttribute('stroke', color);
  el.setAttribute('stroke-width', LW);
  el.setAttribute('stroke-linejoin', 'round');
  if (dash) el.setAttribute('stroke-dasharray', dash);
  group.appendChild(el);
}
function drawPoly(group, lons, lats, top, fill, name){
  const el = document.createElementNS(SVGNS, 'polygon');
  
  
  el.setAttribute('points', pts(lons, lats, top));
  el.setAttribute('fill', fill);
  el.setAttribute('stroke', '#000');
  el.setAttribute('stroke-width', 3.6);
  el.setAttribute('stroke-linejoin', 'round');
  group.appendChild(el);
}

function seriesFor(i){
  if (i === 0) return [
    [lonBase,lat2030GreenSolid,'#008000',null,'shoreline-solid'],
    [lonBase,lat2030GreenDash,'#008000',DASH,'shoreline-dashed'],
    [lonBase,lat2030GreenDashDot,'#008000',DASHDOT,'shoreline-dashdot'],
    [lonBase,latInitial,'#000',null,'initial-shoreline'],
    [lonUpper,lat2030BlueSolid,'#0000ff',null,'five-times-solid'],
    [lonUpper,lat2030BlueDash,'#0000ff',DASH,'five-times-dashed'],
    [lon2030BlueDashDot,lat2030BlueDashDot,'#0000ff',DASHDOT,'five-times-dashdot'],
    [lonUpper,lat2030RedSolid,'#ff0000',null,'reached-solid'],
    [lonUpper,lat2030RedDash,'#ff0000',DASH,'reached-dashed'],
    [lon2030RedDashDot,lat2030RedDashDot,'#ff0000',DASHDOT,'reached-dashdot'],
    [lon2030FragA,lat2030FragA,'#ff0000',DASHDOT,'reached-dashdot-loop'],
    [lon2030FragB,lat2030FragB,'#ff0000',DASHDOT,'reached-dashdot-loop'],
    [lon2030FragSolid,lat2030FragSolid,'#ff0000',null,'reached-solid-loop']
  ];
  if (i === 1) return [
    [lonBase,lat2050GreenSolid,'#008000',null,'shoreline-solid'],
    [lonBase,lat2050GreenDash,'#008000',DASH,'shoreline-dashed'],
    [lonBase,lat2050GreenDashDot,'#008000',DASHDOT,'shoreline-dashdot'],
    [lonBase,latInitial,'#000',null,'initial-shoreline'],
    [lonUpper,lat2050BlueSolid,'#0000ff',null,'five-times-solid'],
    [lonUpper,lat2050BlueDash,'#0000ff',DASH,'five-times-dashed'],
    [lon2050BlueDashDot,lat2050BlueDashDot,'#0000ff',DASHDOT,'five-times-dashdot'],
    [lonUpper,lat2050RedSolid,'#ff0000',null,'reached-solid'],
    [lonUpper,lat2050RedDash,'#ff0000',DASH,'reached-dashed'],
    [lon2050RedDashDot,lat2050RedDashDot,'#ff0000',DASHDOT,'reached-dashdot'],
    [lon2050FragA,lat2050FragA,'#ff0000',DASHDOT,'reached-dashdot-loop'],
    [lon2050FragB,lat2050FragB,'#ff0000',DASHDOT,'reached-dashdot-loop'],
    [lon2050FragSolid,lat2050FragSolid,'#ff0000',null,'reached-solid-loop'],
    [lon2050FragSolid2,lat2050FragSolid2,'#ff0000',null,'reached-solid-loop']
  ];
  return [
    [lonBase,lat2100GreenSolid,'#008000',null,'shoreline-solid'],
    [lonBase,lat2100GreenDash,'#008000',DASH,'shoreline-dashed'],
    [lonBase,lat2100GreenDashDot,'#008000',DASHDOT,'shoreline-dashdot'],
    [lonBase,latInitial,'#000',null,'initial-shoreline'],
    [lon2100BlueSolid,lat2100BlueSolid,'#0000ff',null,'five-times-solid'],
    [lonUpper,lat2100BlueDash,'#0000ff',DASH,'five-times-dashed'],
    [lon2100BlueDashDot,lat2100BlueDashDot,'#0000ff',DASHDOT,'five-times-dashdot'],
    [lon2100RedSolid,lat2100RedSolid,'#ff0000',null,'reached-solid'],
    [lonUpper,lat2100RedDash,'#ff0000',DASH,'reached-dashed'],
    [lon2100RedDashDot,lat2100RedDashDot,'#ff0000',DASHDOT,'reached-dashdot'],
    [lon2100FragA,lat2100FragA,'#ff0000',DASHDOT,'reached-dashdot-loop'],
    [lon2100FragB,lat2100FragB,'#ff0000',DASHDOT,'reached-dashdot-loop'],
    [lon2100FragC,lat2100FragC,'#ff0000',DASHDOT,'reached-dashdot-loop'],
    [lon2100FragD,lat2100FragD,'#ff0000',DASHDOT,'reached-dashdot-loop'],
    [lon2100FragE,lat2100FragE,'#ff0000',DASHDOT,'reached-dashdot-loop']
  ];
}

panelYears.forEach(function(year, i){
  const top = panelTops[i];
  const bottom = top + plotHeight;
  const g = document.getElementById('panel' + i);
  const plot = document.createElementNS(SVGNS, 'g');
  plot.setAttribute('clip-path', 'url(#clip' + i + ')');
  
  
  g.appendChild(plot);

  buildingLon.forEach(function(lons, b){
    drawPoly(plot, lons, buildingLat[b], top, '#808080', 'building');
  });
  holeLon.forEach(function(lons, b){
    drawPoly(plot, lons, holeLat[b], top, '#fff', 'building-courtyard');
  });
  seriesFor(i).forEach(function(s){
    drawLine(plot, s[0], s[1], top, s[2], s[3], s[4]);
  });
  groyneLon.forEach(function(lons, b){
    drawPoly(plot, lons, groyneLat[b], top, '#808080', 'groyne');
  });

  const frame = document.createElementNS(SVGNS, 'rect');
  
  
  frame.setAttribute('x', plotLeft);
  frame.setAttribute('y', top);
  frame.setAttribute('width', plotRight - plotLeft);
  frame.setAttribute('height', plotHeight);
  frame.setAttribute('fill', 'none');
  frame.setAttribute('stroke', '#000');
  frame.setAttribute('stroke-width', 3);
  g.appendChild(frame);

  xTicks.forEach(function(v, k){
    const t = document.createElementNS(SVGNS, 'line');
    
    
    t.setAttribute('x1', xOf(v));
    t.setAttribute('x2', xOf(v));
    t.setAttribute('y1', bottom);
    t.setAttribute('y2', bottom + 15);
    t.setAttribute('stroke', '#000');
    t.setAttribute('stroke-width', 3);
    g.appendChild(t);
    if (i === 2) {
      const l = document.createElementNS(SVGNS, 'text');
      
      
      l.setAttribute('x', xOf(v));
      l.setAttribute('y', 2374);
      l.setAttribute('font-size', 41);
      l.setAttribute('text-anchor', 'middle');
      l.textContent = xTickLabels[k];
      g.appendChild(l);
    }
  });
  yTicks.forEach(function(v, k){
    const t = document.createElementNS(SVGNS, 'line');
    
    
    t.setAttribute('x1', plotLeft - 15);
    t.setAttribute('x2', plotLeft);
    t.setAttribute('y1', yOf(v, top));
    t.setAttribute('y2', yOf(v, top));
    t.setAttribute('stroke', '#000');
    t.setAttribute('stroke-width', 3);
    g.appendChild(t);
    const l = document.createElementNS(SVGNS, 'text');
    
    
    l.setAttribute('x', 239);
    l.setAttribute('y', yOf(v, top) + 15);
    l.setAttribute('font-size', 41);
    l.setAttribute('text-anchor', 'end');
    l.textContent = yTickLabels[k];
    g.appendChild(l);
  });
});
</script>
</body>
</html>
